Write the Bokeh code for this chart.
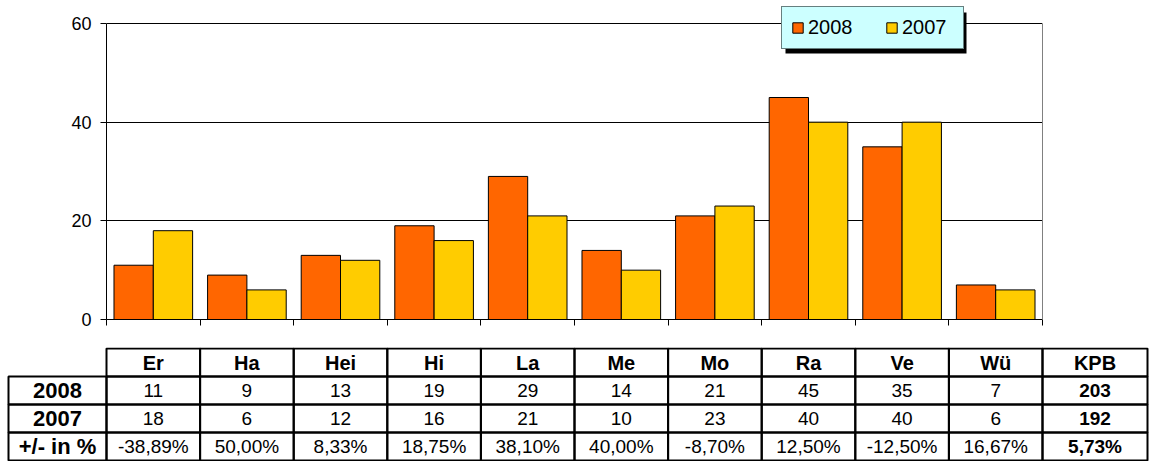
import numpy as np
from bokeh.plotting import figure
from bokeh.models import (Range1d, FixedTicker, LinearAxis, Legend, LegendItem,
                          ColumnDataSource, BoxAnnotation)
from bokeh.embed import file_html
from bokeh.resources import INLINE
from bokeh.core.properties import value

# ---------------- data ----------------
categories = ["Er", "Ha", "Hei", "Hi", "La", "Me", "Mo", "Ra", "Ve", "Wü"]
values_2008 = [11, 9, 13, 19, 29, 14, 21, 45, 35, 7]
values_2007 = [18, 6, 12, 16, 21, 10, 23, 40, 40, 6]
change_pct = ["-38,89%", "50,00%", "8,33%", "18,75%", "38,10%",
              "40,00%", "-8,70%", "12,50%", "-12,50%", "16,67%"]
total_label = "KPB"
total_2008 = "203"
total_2007 = "192"
total_pct = "5,73%"
row_labels = ["2008", "2007", "+/- in %"]
series_names = ["2008", "2007"]
y_ticks = [0, 20, 40, 60]
y_max = 60

# ---------------- style ----------------
FONT = "Liberation Sans"
ORANGE = "#FF6600"
YELLOW = "#FFCC00"
W = 1149
H1 = 347
H2 = 114
LEFT = 106
RIGHT = 107
BOTTOM = 28
AXIS_TOP_PX = 23              # where the value 60 sits
FRAME_H = H1 - BOTTOM         # frame spans from the top of the canvas
PX_PER_CAT = (W - LEFT - RIGHT) / len(categories)
y_end = y_max * FRAME_H / (FRAME_H - AXIS_TOP_PX)

LEG_X, LEG_Y = 675, 270       # legend bottom-left, screen px from frame bottom-left
LEG_PAD, LEG_GLYPH, LEG_STANDOFF, LEG_LABEL_W, LEG_SPACING = 9, 13, 4, 52, 25
LEG_W = 2 * LEG_PAD + 2 * (LEG_GLYPH + LEG_STANDOFF + LEG_LABEL_W) + LEG_SPACING
LEG_H = 41
SHADOW = 4

# ---------------- chart ----------------
p = figure(width=W, height=H1, output_backend="svg", toolbar_location=None,
           x_range=Range1d(0, len(categories)), y_range=Range1d(0, y_end),
           min_border_left=LEFT, min_border_right=RIGHT,
           min_border_top=0, min_border_bottom=BOTTOM)
p.outline_line_color = None
p.background_fill_color = "white"

idx = np.arange(len(categories))
src = ColumnDataSource(dict(x08=idx + 0.29, x07=idx + 0.71,
                            v08=values_2008, v07=values_2007))
r08 = p.vbar(x="x08", top="v08", bottom=0, width=0.42, source=src,
             fill_color=ORANGE, line_color="black", line_width=1)
r07 = p.vbar(x="x07", top="v07", bottom=0, width=0.42, source=src,
             fill_color=YELLOW, line_color="black", line_width=1)

p.xgrid.visible = False
p.ygrid.ticker = FixedTicker(ticks=y_ticks)
p.ygrid.grid_line_color = "black"
p.ygrid.grid_line_width = 1

p.yaxis.ticker = FixedTicker(ticks=y_ticks)
p.yaxis.bounds = (0, y_max)
p.yaxis.major_label_text_font = FONT
p.yaxis.major_label_text_font_size = "18px"
p.yaxis.major_label_text_color = "black"
p.yaxis.major_tick_out = 6
p.yaxis.major_tick_in = 0
p.yaxis.minor_tick_line_color = None
p.yaxis.major_label_standoff = 9
p.yaxis.axis_line_color = "black"
p.yaxis.major_tick_line_color = "black"

p.xaxis.ticker = FixedTicker(ticks=list(range(len(categories) + 1)))
p.xaxis.major_tick_out = 6
p.xaxis.major_tick_in = 0
p.xaxis.minor_tick_line_color = None
p.xaxis.major_label_text_font_size = "1px"
p.xaxis.major_label_text_alpha = 0
p.xaxis.major_label_standoff = 0
p.xaxis.axis_line_color = "black"
p.xaxis.major_tick_line_color = "black"

right_axis = LinearAxis(ticker=FixedTicker(ticks=[]), axis_line_color="#808080",
                        bounds=(0, y_max),
                        major_label_text_font_size="1px", major_tick_line_color=None,
                        minor_tick_line_color=None)
p.add_layout(right_axis, "right")

# legend shadow
shadow = BoxAnnotation(left=LEG_X + SHADOW, right=LEG_X + SHADOW + LEG_W,
                       bottom=LEG_Y - SHADOW, top=LEG_Y - SHADOW + LEG_H,
                       left_units="screen", right_units="screen",
                       top_units="screen", bottom_units="screen",
                       fill_color="black", fill_alpha=1.0, line_color=None)
p.add_layout(shadow)

legend = Legend(items=[LegendItem(label=series_names[0], renderers=[r08]),
                       LegendItem(label=series_names[1], renderers=[r07])],
                location=(LEG_X, LEG_Y), orientation="horizontal",
                background_fill_color="#CCFFFF", background_fill_alpha=1.0,
                border_line_color="black", border_line_width=1,
                label_text_font=FONT, label_text_font_size="20px",
                label_text_color="black",
                glyph_width=LEG_GLYPH, glyph_height=LEG_GLYPH,
                label_standoff=LEG_STANDOFF, label_width=LEG_LABEL_W, label_height=20,
                spacing=LEG_SPACING, padding=LEG_PAD, margin=0)
p.add_layout(legend)

# ---------------- table ----------------
ncat = len(categories)
x_start = -LEFT / PX_PER_CAT
x_end = (W - LEFT) / PX_PER_CAT
lbl_left = (8 - LEFT) / PX_PER_CAT
kpb_right = (1147 - LEFT) / PX_PER_CAT

t = figure(width=W, height=H2, output_backend="svg", toolbar_location=None,
           x_range=Range1d(x_start, x_end), y_range=Range1d(4 + 1 / 28, -1 / 28),
           x_axis_location=None, y_axis_location=None,
           min_border_left=0, min_border_right=0, min_border_top=0, min_border_bottom=0)
t.outline_line_color = None
t.grid.visible = False

col_left = list(range(ncat)) + [ncat]
col_right = list(range(1, ncat + 1)) + [kpb_right]
col_center = [(a + b) / 2 for a, b in zip(col_left, col_right)]

L, R, T, B = [], [], [], []
for r in range(4):
    lefts = col_left if r == 0 else [lbl_left] + col_left
    rights = col_right if r == 0 else [0] + col_right
    for a, b in zip(lefts, rights):
        L.append(a); R.append(b); T.append(r); B.append(r + 1)
t.quad(left=L, right=R, top=T, bottom=B, fill_color=None,
       line_color="black", line_width=2)

# header
t.text(x=col_center, y=[0.5] * (ncat + 1), text=categories + [total_label],
       text_font=value(FONT), text_font_size="20px", text_font_style="bold",
       text_align="center", text_baseline="middle", text_color="black")
# row labels
t.text(x=[(lbl_left + 0) / 2] * 3, y=[1.5, 2.5, 3.5], text=row_labels,
       text_font=value(FONT), text_font_size="22px", text_font_style="bold",
       text_align="center", text_baseline="middle", text_color="black")
# values
rows = [[str(v) for v in values_2008], [str(v) for v in values_2007], change_pct]
vx, vy, vt = [], [], []
for ri, row in enumerate(rows):
    for ci, s in enumerate(row):
        vx.append(col_center[ci]); vy.append(ri + 1.5); vt.append(s)
t.text(x=vx, y=vy, text=vt, text_font=value(FONT), text_font_size="19px",
       text_align="center", text_baseline="middle", text_color="black")
# totals
t.text(x=[col_center[-1]] * 3, y=[1.5, 2.5, 3.5], text=[total_2008, total_2007, total_pct],
       text_font=value(FONT), text_font_size="19px", text_font_style="bold",
       text_align="center", text_baseline="middle", text_color="black")

open("out.html", "w").write(file_html([p, t], INLINE))
